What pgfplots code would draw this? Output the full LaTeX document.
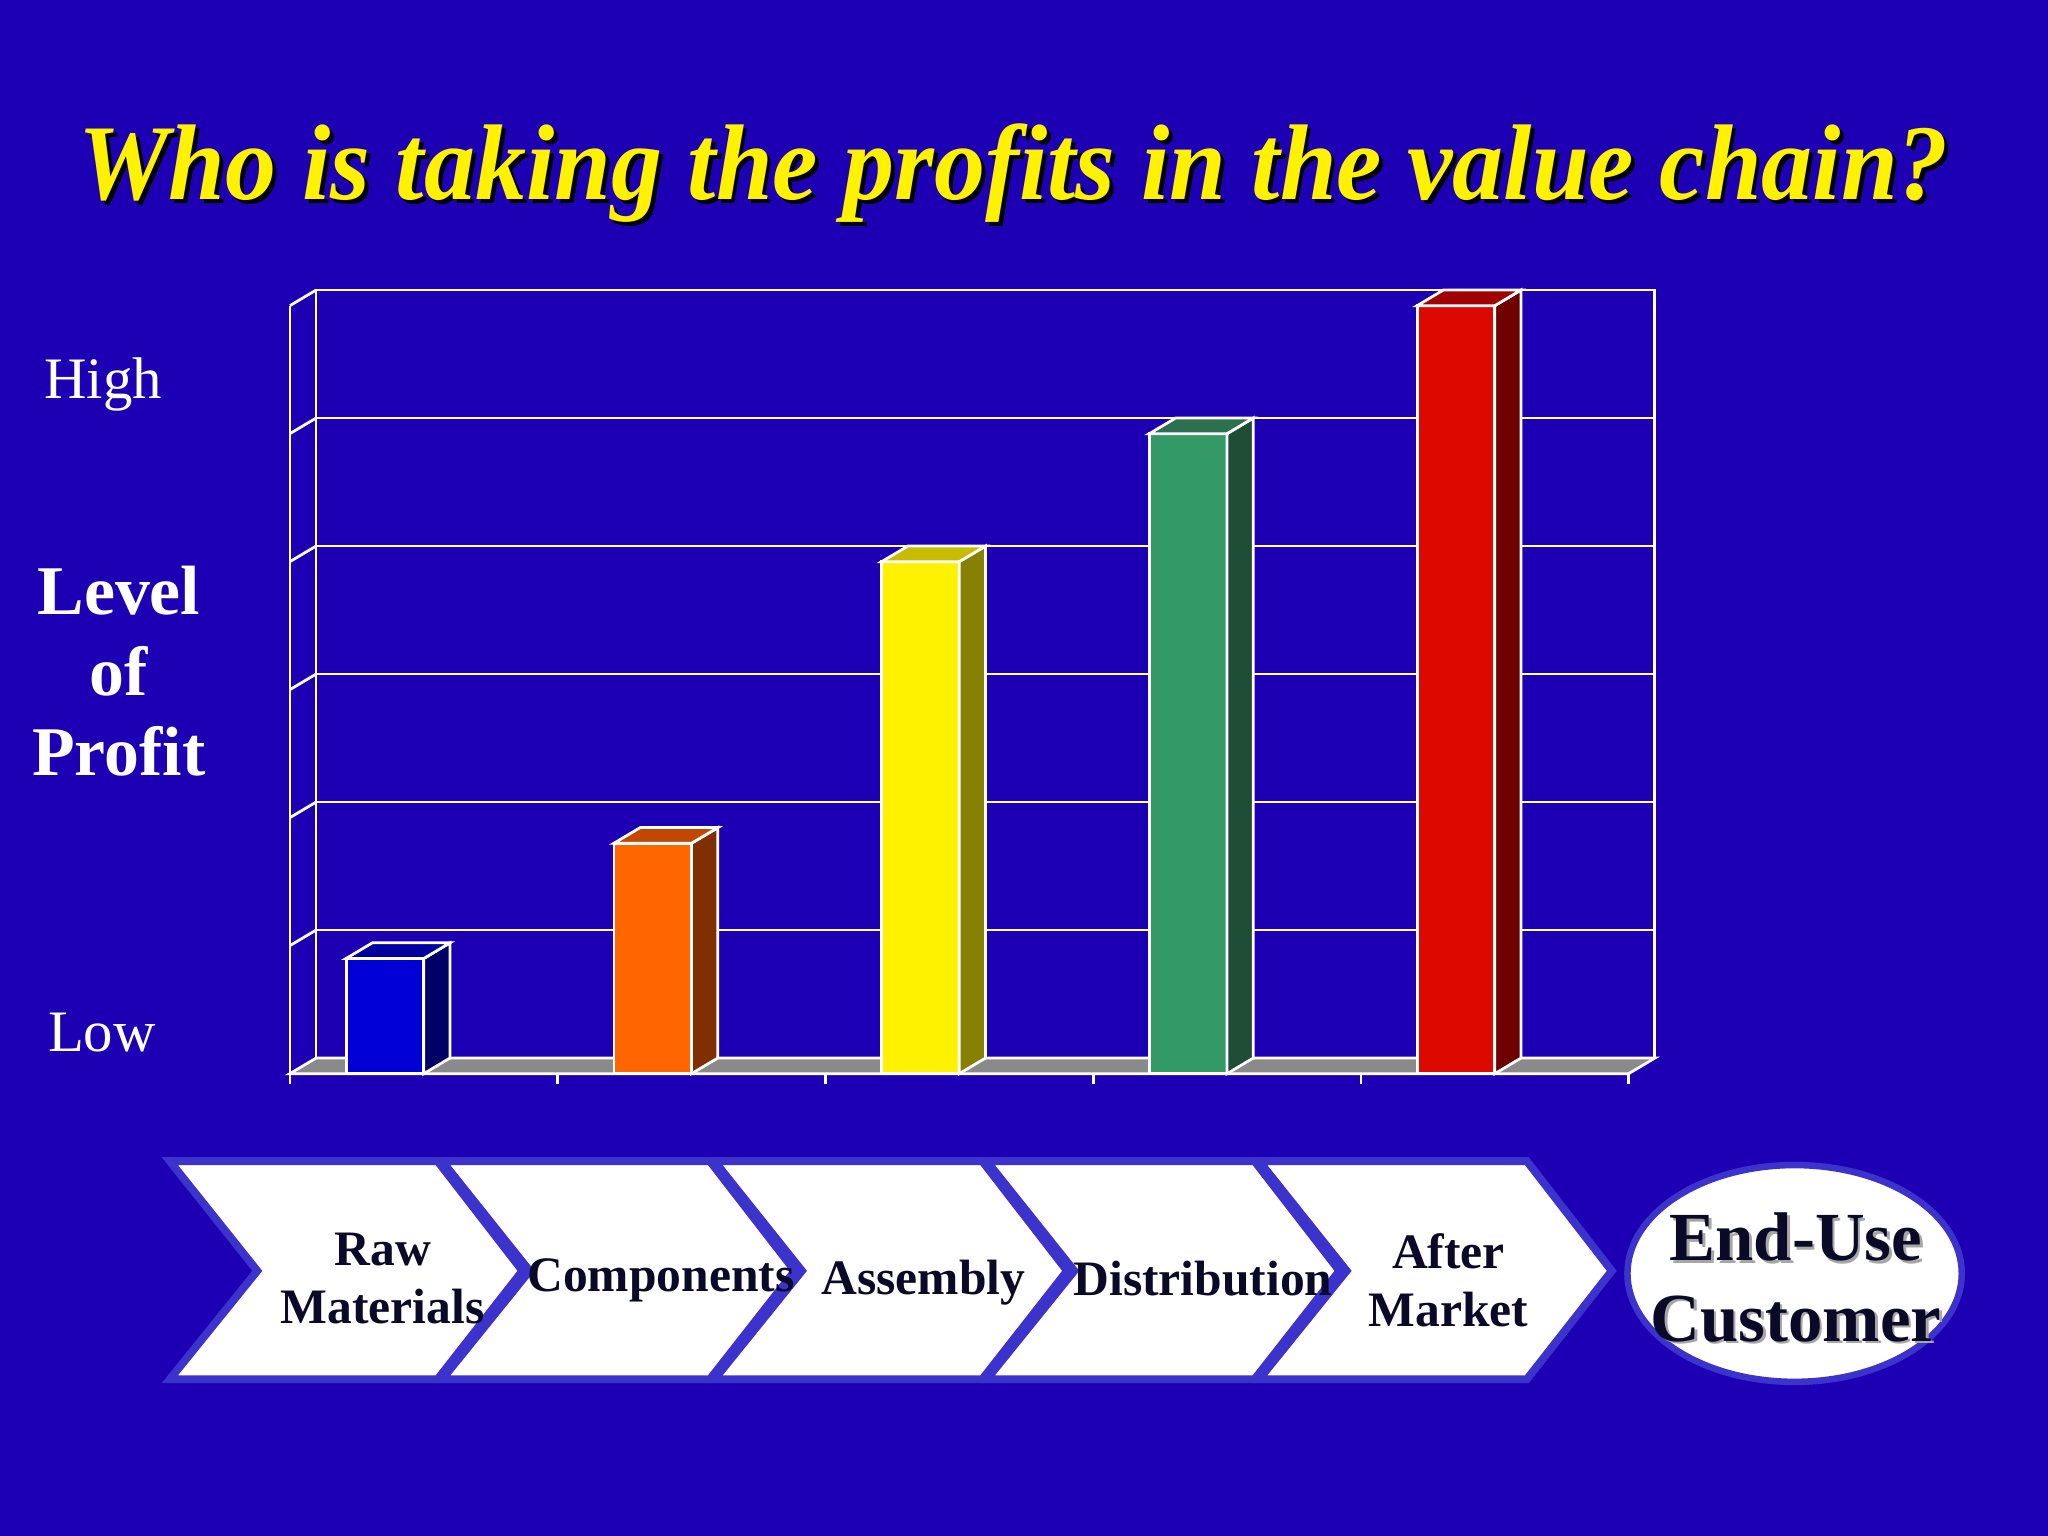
\documentclass[border=0pt]{standalone}
\usepackage{pgfplots}
\pgfplotsset{compat=1.18}
\usepackage{fontspec}
\setmainfont{Liberation Serif}

\definecolor{bg}{HTML}{1E00B4}
\definecolor{arrowline}{HTML}{3C32CC}
\definecolor{ink}{HTML}{0A0A28}
\definecolor{floorgray}{HTML}{8A8A8A}
\definecolor{bluef}{HTML}{0000D6}\definecolor{blues}{HTML}{000066}\definecolor{bluet}{HTML}{0000A0}
\definecolor{orangef}{HTML}{FF6600}\definecolor{oranges}{HTML}{803000}\definecolor{oranget}{HTML}{C04800}
\definecolor{yellowf}{HTML}{FFF200}\definecolor{yellows}{HTML}{888000}\definecolor{yellowt}{HTML}{C8BC00}
\definecolor{greenf}{HTML}{339966}\definecolor{greens}{HTML}{1E4D36}\definecolor{greent}{HTML}{2D7050}
\definecolor{redf}{HTML}{DD0800}\definecolor{reds}{HTML}{6E0000}\definecolor{redt}{HTML}{A00000}

\newcommand{\titletext}{\resizebox{143.2mm}{5.8mm}{\bfseries\itshape Who is taking the profits in the value chain?}}

\begin{document}
\begin{tikzpicture}[x=0.1mm,y=0.1mm]
\fill[bg] (0,0) rectangle (1568,1176);
\useasboundingbox (0,0) rectangle (1568,1176);

% title with shadow
\node[anchor=base, text=black, inner sep=0pt] at (779,1020) {\titletext};
\node[anchor=base, text=yellow, inner sep=0pt] at (776,1023) {\titletext};

% y-axis words
\node[text=white, font=\fontsize{12.8}{15}\selectfont, anchor=base] at (79,871) {High};
\node[text=white, font=\fontsize{12.8}{15}\selectfont, anchor=base] at (78,371) {Low};
\node[text=white, font=\bfseries\fontsize{15.2}{17.6}\selectfont, align=center] at (91,662) {Level\\of\\Profit};

% back wall with grid
\begin{axis}[
    at={(24.2mm,36.6mm)}, anchor=south west,
    x=20.5mm, y=9.8mm,
    xmin=0, xmax=5, ymin=0, ymax=6,
    xtick=\empty, ytick={0,1,2,3,4,5,6}, yticklabels={},
    major tick length=0pt,
    ymajorgrids, grid style={white, line width=0.6pt},
    axis line style={white, line width=0.6pt},
]
\addplot[draw=none] coordinates {(0,0)};
\end{axis}

% floor, side wall and bars
\begin{axis}[
    at={(22.2mm,35.4mm)}, anchor=south west,
    x=20.5mm, y=9.8mm,
    xmin=0, xmax=5, ymin=0, ymax=6,
    hide axis, clip=false,
    every axis plot/.append style={line width=0.6pt},
]
% floor
\addplot[fill=floorgray, draw=white] coordinates {(0,0) (5,0) (5.098,0.122) (0.098,0.122)} -- cycle;
% side wall lines
\addplot[white] coordinates {(0,1) (0.098,1.122)};
\addplot[white] coordinates {(0,2) (0.098,2.122)};
\addplot[white] coordinates {(0,3) (0.098,3.122)};
\addplot[white] coordinates {(0,4) (0.098,4.122)};
\addplot[white] coordinates {(0,5) (0.098,5.122)};
\addplot[white] coordinates {(0,6) (0.098,6.122)};
% front axis and category ticks
\addplot[white] coordinates {(0,-0.08) (0,6)};
\addplot[white] coordinates {(1,0) (1,-0.08)};
\addplot[white] coordinates {(2,0) (2,-0.08)};
\addplot[white] coordinates {(3,0) (3,-0.08)};
\addplot[white] coordinates {(4,0) (4,-0.08)};
\addplot[white] coordinates {(5,0) (5,-0.08)};

% Raw Materials 0.9
\addplot[ybar, bar width=0.29, bar shift=0pt, fill=bluef, draw=white] coordinates {(0.355,0.9)};
\addplot[fill=blues, draw=white] coordinates {(0.50,0) (0.598,0.122) (0.598,1.022) (0.50,0.9)} -- cycle;
\addplot[fill=bluet, draw=white] coordinates {(0.21,0.9) (0.50,0.9) (0.598,1.022) (0.308,1.022)} -- cycle;
% Components 1.8
\addplot[ybar, bar width=0.29, bar shift=0pt, fill=orangef, draw=white] coordinates {(1.355,1.8)};
\addplot[fill=oranges, draw=white] coordinates {(1.50,0) (1.598,0.122) (1.598,1.922) (1.50,1.8)} -- cycle;
\addplot[fill=oranget, draw=white] coordinates {(1.21,1.8) (1.50,1.8) (1.598,1.922) (1.308,1.922)} -- cycle;
% Assembly 4
\addplot[ybar, bar width=0.29, bar shift=0pt, fill=yellowf, draw=white] coordinates {(2.355,4)};
\addplot[fill=yellows, draw=white] coordinates {(2.50,0) (2.598,0.122) (2.598,4.122) (2.50,4)} -- cycle;
\addplot[fill=yellowt, draw=white] coordinates {(2.21,4) (2.50,4) (2.598,4.122) (2.308,4.122)} -- cycle;
% Distribution 5
\addplot[ybar, bar width=0.29, bar shift=0pt, fill=greenf, draw=white] coordinates {(3.355,5)};
\addplot[fill=greens, draw=white] coordinates {(3.50,0) (3.598,0.122) (3.598,5.122) (3.50,5)} -- cycle;
\addplot[fill=greent, draw=white] coordinates {(3.21,5) (3.50,5) (3.598,5.122) (3.308,5.122)} -- cycle;
% After Market 6
\addplot[ybar, bar width=0.29, bar shift=0pt, fill=redf, draw=white] coordinates {(4.355,6)};
\addplot[fill=reds, draw=white] coordinates {(4.50,0) (4.598,0.122) (4.598,6.122) (4.50,6)} -- cycle;
\addplot[fill=redt, draw=white] coordinates {(4.21,6) (4.50,6) (4.598,6.122) (4.308,6.122)} -- cycle;
\end{axis}

% value chain chevrons
\foreach \i in {0,...,4} {
  \pgfmathsetmacro{\xo}{130+208.5*\i}
  \filldraw[fill=white, draw=arrowline, line width=0.6mm, line join=miter]
    (\xo,287) -- (\xo+205,287) -- (\xo+270,203) -- (\xo+205,120) -- (\xo,120) -- (\xo+67,203) -- cycle;
}
\begin{scope}[every node/.style={text=ink, font=\bfseries\fontsize{10.8}{12.6}\selectfont, align=center}]
\node at (293,197) {Raw\\Materials};
\node at (506,196) {Components};
\node at (707,194) {Assembly};
\node at (921,197) {Distribution};
\node at (1109,196) {After\\Market};
\end{scope}

% end-use customer
\filldraw[fill=white, draw=arrowline, line width=0.5mm] (1374,201) ellipse [x radius=128, y radius=83];
\node[text=gray!70, font=\bfseries\fontsize{15}{17.6}\selectfont, align=center] at (1377,196) {End-Use\\Customer};
\node[text=ink, font=\bfseries\fontsize{15}{17.6}\selectfont, align=center] at (1375,198) {End-Use\\Customer};
\end{tikzpicture}
\end{document}
